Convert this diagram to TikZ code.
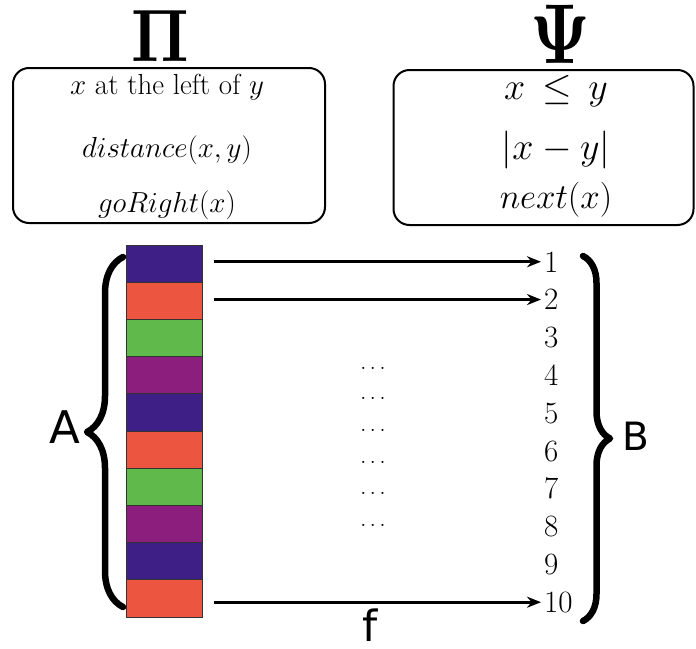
\RequirePackage{fix-cm}
\documentclass[tikz,border=0pt]{standalone}
\usepackage{fontspec}
\newfontfamily\dejavu{DejaVu Sans}
\usetikzlibrary{arrows.meta,decorations.pathreplacing}
\definecolor{cA}{HTML}{3D1F85}
\definecolor{cB}{HTML}{EC5540}
\definecolor{cC}{HTML}{5FBA4B}
\definecolor{cD}{HTML}{8C1F7E}
\begin{document}
\begin{tikzpicture}[x=1pt,y=-1pt,
  box/.style={draw, line width=2pt, rounded corners=16pt, inner sep=0pt},
  big/.style={anchor=base, inner sep=0pt},
  ltext/.style={font=\fontsize{29}{34}\selectfont, anchor=base, inner sep=0pt},
  rtext/.style={font=\fontsize{38}{44}\selectfont, anchor=base, inner sep=0pt},
  cell/.style={draw=black!80, line width=1pt, minimum width=76pt, minimum height=37.2pt, inner sep=0pt},
  num/.style={font=\fontsize{31}{36}\selectfont, anchor=base west, inner sep=0pt},
  dotsnode/.style={font=\fontsize{22}{26}\selectfont, inner sep=0pt},
  arr/.style={line width=3pt, -{Stealth[length=14pt,width=11pt]}, shorten <=11pt, shorten >=3pt},
  bracestyle/.style={decorate, line width=6.5pt, line cap=round, line join=round},
  sans/.style={inner sep=0pt}
]
\useasboundingbox (0,0) rectangle (696,648);
% titles
\node[big] (pi) at (160,61) {\scalebox{6.4}[7.45]{\fontsize{10}{12}\selectfont\boldmath$\Pi$}};
\node[big] (psi) at (560,63) {\scalebox{6.7}[8.5]{\fontsize{10}{12}\selectfont\boldmath$\Psi$}};
% boxes
\node[box, minimum width=312pt, minimum height=155pt] (lbox) at (169,145.5) {};
\node[box, minimum width=300pt, minimum height=155pt] (rbox) at (543.5,147.5) {};
\node[ltext] (l1) at (167,94) {$x$ at the left of $y$};
\node[ltext] (l2) at (167,157) {$distance(x,y)$};
\node[ltext] (l3) at (167,212) {$goRight(x)$};
\node[rtext] (r1) at (556,99) {$x\mskip3mu\leq\mskip3mu y$};
\node[rtext] (r2) at (556,159) {$|x-y|$};
\node[rtext, font=\fontsize{35}{40}\selectfont] (r3) at (556,208) {$next(x)$};
% column
\foreach \i/\c in {1/cA,2/cB,3/cC,4/cD,5/cA,6/cB,7/cC,8/cD,9/cA,10/cB}
  \node[cell, fill=\c] (c\i) at (164, {245+37.2*(\i-0.5)}) {};
% numbers
\foreach \i in {1,...,10}
  \node[num] (n\i) at (544, {272+37.8*(\i-1)}) {\i};
% arrows
\foreach \i in {1,2,10}
  \draw[arr] (c\i.east |- n\i.west) -- (n\i.west);
% dots
\foreach \y [count=\k] in {368,398,430,462,493,525}
  \node[dotsnode] (d\k) at (373,\y) {$\ldots$};
% braces
\coordinate (lbA) at (123,607);
\coordinate (lbB) at (123,257);
\draw[bracestyle, decoration={brace, amplitude=36pt}] (lbA) -- (lbB);
\coordinate (rbA) at (583,256);
\coordinate (rbB) at (583,621);
\draw[bracestyle, decoration={brace, amplitude=27pt}] (rbA) -- (rbB);
% labels
\node[sans, font=\dejavu\fontsize{45}{50}\selectfont] (A) at (65,427) {A};
\node[sans, font=\dejavu\fontsize{39}{44}\selectfont] (B) at (636,436) {B};
\node[sans, font=\dejavu\fontsize{43}{48}\selectfont] (f) at (370,625) {f};
\end{tikzpicture}
\end{document}
